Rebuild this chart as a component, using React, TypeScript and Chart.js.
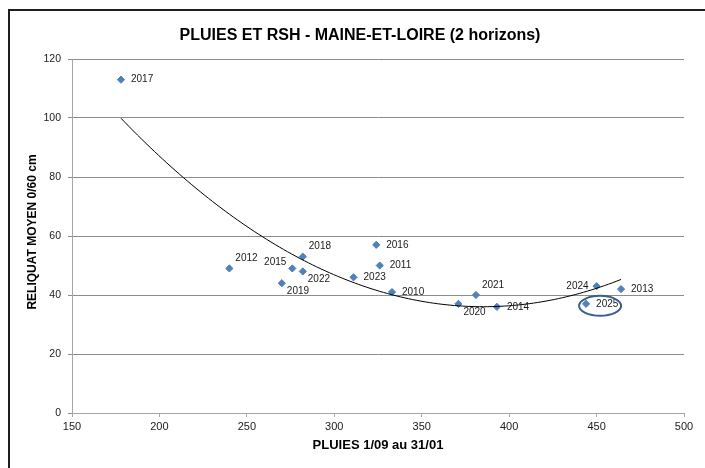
import React, { useEffect, useRef } from 'react';
import { Chart, registerables } from 'chart.js';

Chart.register(...registerables);

// ---- data ----
const years = ['2010', '2011', '2012', '2013', '2014', '2015', '2016', '2017', '2018', '2019', '2020', '2021', '2022', '2023', '2024', '2025'];
const pluies = [333, 326, 240, 464, 393, 276, 324, 178, 282, 270, 371, 381, 282, 311, 450, 444];
const reliquat = [41, 50, 49, 42, 36, 49, 57, 113, 53, 44, 37, 40, 48, 46, 43, 37];
// label placement code per year: r = right, ur = up-right, dr = down-right, l = left, ul = up-left
const labelPlacement = ['r', 'r', 'ur', 'r', 'r', 'ul', 'r', 'r', 'ur', 'dr', 'dr', 'ur', 'dr', 'r', 'l', 'r'];
const highlightedYear = '2025';

const xMin = 150, xMax = 500, xStep = 50;
const yMin = 0, yMax = 120, yStep = 20;

const chartTitle = 'PLUIES ET RSH - MAINE-ET-LOIRE (2 horizons)';
const xTitle = 'PLUIES 1/09 au 31/01';
const yTitle = 'RELIQUAT MOYEN 0/60 cm';

const FONT = '"Liberation Sans", Arial, sans-serif';

// quadratic least-squares trend (like Excel polynomial order 2)
function quadFit(xs: number[], ys: number[]) {
  const m = [[0, 0, 0, 0], [0, 0, 0, 0], [0, 0, 0, 0]];
  for (let i = 0; i < xs.length; i++) {
    const p = [1, xs[i], xs[i] * xs[i]];
    for (let r = 0; r < 3; r++) {
      for (let c = 0; c < 3; c++) m[r][c] += p[r] * p[c];
      m[r][3] += p[r] * ys[i];
    }
  }
  for (let k = 0; k < 3; k++) {
    let piv = k;
    for (let r = k + 1; r < 3; r++) if (Math.abs(m[r][k]) > Math.abs(m[piv][k])) piv = r;
    [m[k], m[piv]] = [m[piv], m[k]];
    for (let r = 0; r < 3; r++) {
      if (r === k) continue;
      const f = m[r][k] / m[k][k];
      for (let c = k; c < 4; c++) m[r][c] -= f * m[k][c];
    }
  }
  return [m[0][3] / m[0][0], m[1][3] / m[1][1], m[2][3] / m[2][2]];
}

export default function App() {
  const ref = useRef<HTMLCanvasElement>(null);

  useEffect(() => {
    if (!ref.current) return;
    const [c0, c1, c2] = quadFit(pluies, reliquat);
    const lo = Math.min(...pluies), hi = Math.max(...pluies);
    const trend: { x: number; y: number }[] = [];
    const N = 120;
    for (let i = 0; i <= N; i++) {
      const x = lo + ((hi - lo) * i) / N;
      trend.push({ x, y: c0 + c1 * x + c2 * x * x });
    }

    const decor = {
      id: 'decor',
      beforeDraw(chart: any) {
        const ctx = chart.ctx;
        ctx.save();
        ctx.fillStyle = '#ffffff';
        ctx.fillRect(0, 0, chart.width, chart.height);
        ctx.strokeStyle = '#1e1e1e';
        ctx.lineWidth = 2;
        ctx.strokeRect(9, 10, chart.width + 10, chart.height + 10);
        ctx.restore();
      },
      afterDraw(chart: any) {
        const ctx = chart.ctx;
        const meta = chart.getDatasetMeta(1);
        ctx.save();
        // titles
        ctx.fillStyle = '#000';
        ctx.textAlign = 'center';
        ctx.textBaseline = 'middle';
        ctx.font = `bold 16px ${FONT}`;
        ctx.fillText(chartTitle, 360, 36);
        ctx.font = `bold 13px ${FONT}`;
        ctx.fillText(xTitle, 378, 445);
        ctx.save();
        ctx.translate(33, 232);
        ctx.rotate(-Math.PI / 2);
        ctx.font = `bold 12px ${FONT}`;
        ctx.fillText(yTitle, 0, 0);
        ctx.restore();
        // data labels
        ctx.font = `10px ${FONT}`;
        ctx.fillStyle = '#1a1a1a';
        meta.data.forEach((pt: any, i: number) => {
          const code = labelPlacement[i];
          let dx = 10, dy = 0, align: CanvasTextAlign = 'left';
          if (code === 'ur') { dx = 6; dy = -10; }
          else if (code === 'dr') { dx = 5; dy = 8; }
          else if (code === 'l') { dx = -8; dy = 0; align = 'right'; }
          else if (code === 'ul') { dx = -6; dy = -6; align = 'right'; }
          ctx.textAlign = align;
          ctx.fillText(years[i], pt.x + dx, pt.y + dy);
        });
        // highlight ellipse
        const hi = years.indexOf(highlightedYear);
        if (hi >= 0) {
          const pt = meta.data[hi];
          ctx.beginPath();
          ctx.ellipse(pt.x + 14, pt.y + 2, 21, 10, 0, 0, Math.PI * 2);
          ctx.strokeStyle = '#3a5f8f';
          ctx.lineWidth = 2;
          ctx.stroke();
        }
        ctx.restore();
      },
    };

    const chart = new Chart(ref.current, {
      type: 'scatter',
      data: {
        datasets: [
          {
            type: 'line',
            label: 'Tendance',
            data: trend,
            borderColor: '#000000',
            borderWidth: 1,
            pointRadius: 0,
            fill: false,
            tension: 0,
          } as any,
          {
            label: 'RSH',
            data: pluies.map((x, i) => ({ x, y: reliquat[i] })),
            pointStyle: 'rectRot',
            pointRadius: 3.6,
            backgroundColor: '#4f81bd',
            borderColor: '#4f81bd',
            borderWidth: 1,
          },
        ],
      },
      options: {
        responsive: false,
        animation: false,
        devicePixelRatio: 1,
        layout: { padding: { top: 59, right: 21, bottom: 0, left: 0 } },
        plugins: {
          legend: { display: false },
          title: { display: false },
          tooltip: { enabled: false },
        },
        scales: {
          x: {
            type: 'linear',
            min: xMin,
            max: xMax,
            afterFit: (s: any) => { s.height = 55; },
            ticks: {
              stepSize: xStep,
              padding: 3,
              color: '#1a1a1a',
              font: { family: FONT, size: 11 },
            },
            grid: { drawOnChartArea: false, drawTicks: true, tickLength: 4, color: '#a6a6a6' },
            border: { color: '#a6a6a6', width: 1 },
          },
          y: {
            type: 'linear',
            min: yMin,
            max: yMax,
            afterFit: (s: any) => { s.width = 72; },
            ticks: {
              stepSize: yStep,
              padding: 7,
              color: '#1a1a1a',
              font: { family: FONT, size: 10.5 },
            },
            grid: { drawTicks: true, tickLength: 4, color: '#8c8c8c' },
            border: { color: '#a6a6a6', width: 1 },
          },
        },
      },
      plugins: [decor],
    });
    return () => chart.destroy();
  }, []);

  return (
    <div style={{ position: 'fixed', left: 0, top: 0, width: 705, height: 468 }}>
      <canvas ref={ref} width={705} height={468} style={{ width: 705, height: 468, display: 'block' }} />
    </div>
  );
}
